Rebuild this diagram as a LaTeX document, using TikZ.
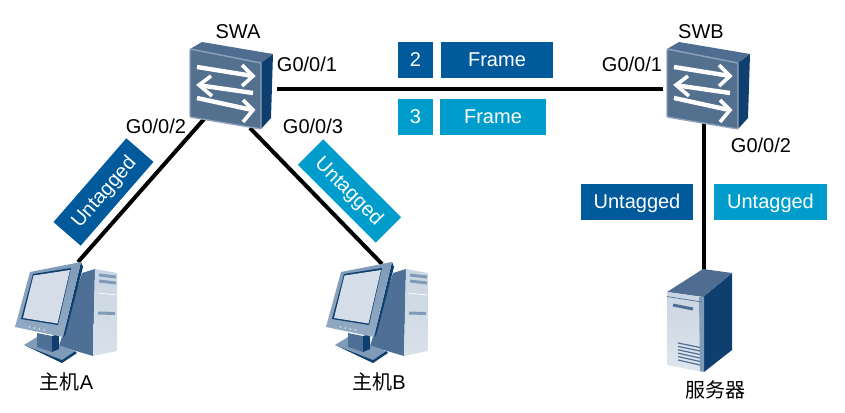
\documentclass[tikz,border=0pt]{standalone}
\usepackage{fontspec}
\setmainfont{Liberation Sans}
\newfontfamily\cjk{Noto Sans CJK SC}
\definecolor{dkblue}{HTML}{005A9C}
\definecolor{ltblue}{HTML}{009DCC}
\definecolor{sfront}{HTML}{54708F}
\definecolor{sedge}{HTML}{8DA3BB}
\definecolor{stop}{HTML}{4F6D90}
\definecolor{sside}{HTML}{0F3F6E}
\definecolor{pcmid}{HTML}{4F7096}
\definecolor{pcbezel}{HTML}{7F9BB8}
\definecolor{pcscreen}{HTML}{D5DDE8}
\definecolor{pclight}{HTML}{C9D5E2}
\tikzset{
  x=1pt,y=-1pt,
  lbl/.style={font=\fontsize{20}{22}\selectfont,inner sep=0pt},
  cjklbl/.style={font=\fontsize{20}{22}\selectfont,inner sep=0pt,text height=15pt,text depth=3pt},
  tagbase/.style={text=white,font=\fontsize{20}{22}\selectfont,inner sep=0pt,minimum height=36pt,text height=16pt,text depth=3pt,anchor=center},
  tagdk/.style={tagbase,fill=dkblue},
  taglt/.style={tagbase,fill=ltblue},
  link/.style={line width=4pt,black},
  anchorbox/.style={inner sep=0pt,minimum width=#1,minimum height=10pt},
  swline/.style={white,line width=4.4pt},
  swhead/.style={white,line width=3.6pt,line join=miter},
  switchicon/.pic={
    \fill[stop] (0,-8) -- (12,-15) -- (83,-3) -- (71,6) -- cycle;
    \fill[sside] (71,6) -- (83,-3) -- (81,61) -- (71,72) -- cycle;
    \fill[sfront,draw=sedge,line width=1.4pt,rounded corners=1pt] (0,-8) -- (71,6) -- (71,72) -- (0,60) -- cycle;
    \draw[swline] (7,10) -- (60,18.5);
    \draw[swhead] (52,8) -- (63,19) -- (52,29);
    \draw[swline] (11,28.5) -- (63,36);
    \draw[swhead] (21,19) -- (9,28) -- (22,39);
    \draw[swline] (7,41) -- (60,52.5);
    \draw[swhead] (53,43) -- (63,53) -- (53,65);
  },
  pcicon/.pic={
    % tower
    \fill[pcmid] (68,9) -- (81,5) -- (79,92) -- (45,82) -- cycle;
    \shade[top color=pclight,bottom color=pclight!70!white] (81,5) -- (103,9) -- (103,87) -- (79,92) -- cycle;
    \draw[pcbezel,line width=3pt] (85,11) -- (102,13);
    \draw[pcbezel,line width=3pt] (85,17) -- (102,19);
    \draw[pcbezel,line width=3pt] (84,49) -- (101,49.5);
    \draw[white,line width=.7pt] (83,29) -- (103,31);
    % stand
    \fill[sside] (10,81) -- (48,99) -- (63,89) -- (61,87) -- (48,95) -- cycle;
    \fill[pcbezel] (10,81) -- (23,73) -- (61,87) -- (48,96) -- cycle;
    \fill[pcmid] (23,69) -- (38,72) -- (38,88) -- (23,83) -- cycle;
    \fill[sside] (38,72) -- (45,70) -- (45,85) -- (38,88) -- cycle;
    % monitor
    \fill[sside] (67,-2) -- (69,3) -- (51,72) -- (49,73) -- cycle;
    \shade[top color=pcbezel,bottom color=pcbezel!85!white] (16,8) -- (67,-2) -- (49,73) -- (1,63) -- cycle;
    \fill[sside] (19,10) -- (57,4) -- (44,61) -- (7,55) -- cycle;
    \fill[pcscreen] (19.5,11.5) -- (56,6) -- (43.5,59.5) -- (9,54) -- cycle;
    \foreach \k in {0,...,3}{
      \fill[pcscreen] (15.3+5*\k,63+\k) circle[radius=1];
    }
  },
  servericon/.pic={
    \fill[sside] (65,-2) -- (65,75) -- (37,97) -- (36,22) -- cycle;
    \fill[stop] (0,17) -- (36,-6) -- (65,-2) -- (36,22) -- cycle;
    \shade[top color=pclight,bottom color=pclight!60!white] (0,17) -- (36,22) -- (36,97) -- (0,90) -- cycle;
    \fill[pcbezel] (32,22) -- (37,22) -- (37,97) -- (33,96) -- cycle;
    \draw[pcmid,line width=.7pt] (0,21.5) -- (35,27);
    \draw[pcmid,line width=3pt] (6,30) -- (26,34);
    \foreach \k in {0,...,5}{
      \draw[pcmid,line width=1.2pt] (11,68+\k*3.4) -- (33,72.5+\k*3.5);
    }
  }
}
\begin{document}
\begin{tikzpicture}
\useasboundingbox (0,0) rectangle (845,412);
% anchor nodes
\node[anchorbox=94pt] (swa) at (230,89) {};
\node[anchorbox=84pt] (swb) at (705,89) {};
\coordinate (swaL) at (205,118);
\coordinate (swaR) at (250,128);
\coordinate (swbD) at (704,123);
\coordinate (hostA) at (78,262);
\coordinate (hostB) at (382,264);
\coordinate (srv) at (704,270);
% links
\draw[link] (swa.east) -- (swb.west);
\draw[link] (swaL) -- (hostA);
\draw[link] (swaR) -- (hostB);
\draw[link] (swbD) -- (srv);
% icons
\pic at (190,57) {switchicon};
\pic at (667,57) {switchicon};
\pic at (14,264) {pcicon};
\pic at (325,264) {pcicon};
\pic at (667,275) {servericon};
% labels
\node[lbl] (lswa) at (238,32) {SWA};
\node[lbl] (lswb) at (701,32) {SWB};
\node[lbl] (p1) at (307,64) {G0/0/1};
\node[lbl] (p2) at (156,126) {G0/0/2};
\node[lbl] (p3) at (313,126) {G0/0/3};
\node[lbl] (p4) at (632,64) {G0/0/1};
\node[lbl] (p5) at (761,145) {G0/0/2};
\node[cjklbl] (la) at (66.5,383) {{\cjk 主机}A};
\node[cjklbl] (lb) at (379,383) {{\cjk 主机}B};
\node[cjklbl] (ls) at (715,391) {{\cjk 服务器}};
% tags
\node[tagdk,minimum width=35pt] (t2) at (415.5,60) {2};
\node[tagdk,minimum width=112pt] (f2) at (497,60) {Frame};
\node[taglt,minimum width=35pt] (t3) at (415.5,117) {3};
\node[taglt,minimum width=106pt] (f3) at (493,117) {Frame};
\node[tagdk,minimum width=112pt] (u1) at (637,202) {Untagged};
\node[taglt,minimum width=113pt] (u2) at (770.5,202) {Untagged};
\node[tagdk,minimum width=111pt,rotate=49] (u3) at (103.5,192) {Untagged};
\node[taglt,minimum width=110pt,rotate=-45] (u4) at (349.5,191) {Untagged};
\end{tikzpicture}
\end{document}
